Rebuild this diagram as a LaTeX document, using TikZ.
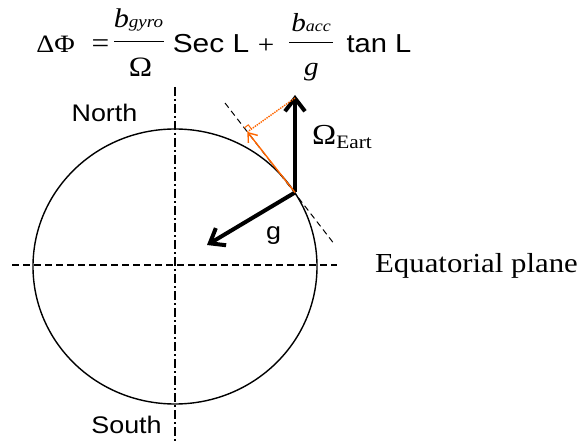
\documentclass[tikz,border=0pt]{standalone}
\usepackage{fontspec}
\usepackage{graphicx}
\setmainfont{Liberation Serif}
\setsansfont{Liberation Sans}
\usetikzlibrary{arrows.meta,calc}
\definecolor{myorange}{RGB}{255,102,0}
\newcommand{\hwide}[1]{\scalebox{1.12}[1]{#1}}
\newcommand{\hwider}[1]{\scalebox{1.15}[1]{#1}}
\begin{document}
\begin{tikzpicture}[x=1bp,y=-1bp,
  lbl/.style={inner sep=0pt, anchor=base},
  sanslbl/.style={lbl, font=\fontsize{24bp}{28bp}\selectfont\sffamily},
  seriflbl/.style={lbl, font=\fontsize{24bp}{28bp}\selectfont\rmfamily},
  axisline/.style={line width=1.2bp, dash pattern=on 9bp off 3bp on 2bp off 3bp},
  eqline/.style={line width=1.2bp, dash pattern=on 7bp off 4bp},
  tanline/.style={line width=1bp, dash pattern=on 6bp off 4bp},
  bigvec/.style={line width=4bp, -{Straight Barb[length=13bp,width=20bp]}},
  ovec/.style={myorange, line width=1.4bp, -{Straight Barb[length=8bp,width=12bp]}},
  fracbar/.style={line width=1bp},
]
\useasboundingbox (0,0) rectangle (585,443);

% axes
\coordinate (ntop) at (175,87);
\coordinate (sbot) at (175,443);
\coordinate (wl) at (12,265);
\coordinate (er) at (337,265);
\draw[axisline] (ntop) -- (sbot);
\draw[eqline] (wl) -- (er);

% earth
\coordinate (c) at (175,266.5);
\draw[line width=1.4bp] (c) ellipse [x radius=142, y radius=137.5];

% tangent
\coordinate (t1) at (225,103);
\coordinate (t2) at (335,245);
\coordinate (p) at (295,192.5);
\draw[tanline] (t1) -- (t2);

% vectors
\coordinate (otip) at (295,95);
\coordinate (gtip) at (207,245);
\coordinate (dstart) at (295,98);
\coordinate (f) at ($(t1)!(otip)!(t2)$);
\draw[bigvec] (p) -- (otip);
\draw[bigvec] (p) -- (gtip);
\draw[ovec] (p) -- (f);
\draw[myorange, line width=1.4bp, densely dotted] (dstart) -- (f);
\coordinate (ra) at ($(f)!5bp!(t1)$);
\coordinate (rb) at ($(f)!5bp!(otip)$);
\draw[myorange, line width=1bp] (ra) -- ($(ra)+(rb)-(f)$) -- (rb);

% labels
\node[sanslbl] (north) at (104.5,122) {\hwide{North}};
\node[sanslbl] (south) at (126.5,433) {\hwide{South}};
\node[sanslbl] (glbl) at (273.5,240) {\hwide{g}};
\node[seriflbl, font=\fontsize{27.5bp}{30bp}\selectfont\rmfamily] (equ) at (476.5,273) {\hwide{Equatorial plane}};
\node[seriflbl, anchor=base west, font=\fontsize{29bp}{30bp}\selectfont\rmfamily] (omlbl) at (312,145) {\hwide{Ω\raisebox{-4bp}{\fontsize{19bp}{20bp}\selectfont Eart}}};

% formula
\node[seriflbl, font=\fontsize{25bp}{28bp}\selectfont\rmfamily] (dphi) at (55.5,53) {\hwide{ΔΦ}};
\node[seriflbl, font=\fontsize{28bp}{30bp}\selectfont\rmfamily] (eq) at (100.5,53) {\hwide{=}};
\node[seriflbl] (num1) at (138.5,28) {\hwide{\fontsize{27bp}{28bp}\selectfont\itshape b\fontsize{17bp}{18bp}\selectfont gyro}};
\coordinate (b1l) at (114,42);
\coordinate (b1r) at (164,42);
\draw[fracbar] (b1l) -- (b1r);
\node[seriflbl, font=\fontsize{28bp}{30bp}\selectfont\rmfamily] (den1) at (140.5,77) {\hwide{Ω}};
\node[sanslbl, font=\fontsize{26bp}{28bp}\selectfont\sffamily] (sec) at (211,53) {\hwider{Sec L}};
\node[seriflbl, font=\fontsize{26bp}{28bp}\selectfont\rmfamily] (plus) at (266,53.5) {\hwide{+}};
\node[seriflbl] (num2) at (311,32) {\hwide{\fontsize{26bp}{28bp}\selectfont\itshape b\fontsize{16bp}{18bp}\selectfont acc}};
\coordinate (b2l) at (289,43);
\coordinate (b2r) at (333,43);
\draw[fracbar] (b2l) -- (b2r);
\node[seriflbl, font=\fontsize{26bp}{28bp}\selectfont\itshape] (den2) at (311.5,76) {\hwide{g}};
\node[sanslbl, font=\fontsize{26bp}{28bp}\selectfont\sffamily] (tan) at (379,53) {\hwide{tan L}};
\end{tikzpicture}
\end{document}
